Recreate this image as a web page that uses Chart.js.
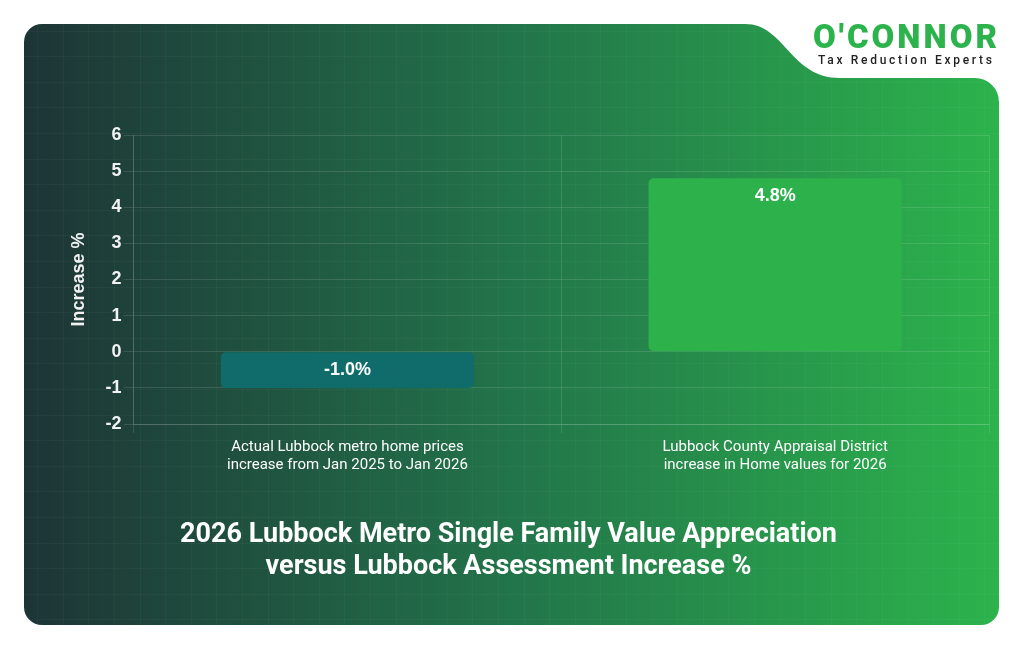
<!DOCTYPE html>
<html>
<head>
<meta charset="utf-8">
<script src="https://cdn.jsdelivr.net/npm/chart.js@4"></script>
<style>
html,body{margin:0;padding:0;background:#fff;}
canvas{display:block;}
</style>
</head>
<body>
<canvas id="c" width="1024" height="651"></canvas>
<script>
const categories = [
  ["Actual Lubbock metro home prices", "increase from Jan 2025 to Jan 2026"],
  ["Lubbock County Appraisal District", "increase in Home values for 2026"]
];
const values = [-1.0, 4.8];
const valueLabels = ["-1.0%", "4.8%"];
const yMin = -2, yMax = 6, yStep = 1;
const axisTitle = "Increase %";
const chartTitle = ["2026 Lubbock Metro Single Family Value Appreciation", "versus Lubbock Assessment Increase %"];
const brandName = "O'CONNOR";
const brandTagline = "Tax Reduction Experts";

const bgPlugin = {
  id: 'bg',
  beforeDraw(chart) {
    const ctx = chart.ctx;
    ctx.save();
    ctx.fillStyle = '#ffffff';
    ctx.fillRect(0, 0, chart.width, chart.height);
    const L = 24, T = 24, R = 999, B = 625, r = 18, r2 = 24, notchY = 78;
    ctx.beginPath();
    ctx.moveTo(L + r, T);
    ctx.lineTo(745, T);
    ctx.bezierCurveTo(785, T, 790, notchY, 840, notchY);
    ctx.lineTo(R - r2, notchY);
    ctx.arcTo(R, notchY, R, notchY + r2, r2);
    ctx.lineTo(R, B - r);
    ctx.arcTo(R, B, R - r, B, r);
    ctx.lineTo(L + r, B);
    ctx.arcTo(L, B, L, B - r, r);
    ctx.lineTo(L, T + r);
    ctx.arcTo(L, T, L + r, T, r);
    ctx.closePath();
    const g = ctx.createLinearGradient(L, 0, R, 0);
    g.addColorStop(0, '#1d3436');
    g.addColorStop(0.5, '#22744a');
    g.addColorStop(1, '#2cb34c');
    ctx.fillStyle = g;
    ctx.fill();
    ctx.clip();
    ctx.strokeStyle = 'rgba(255,255,255,0.03)';
    ctx.lineWidth = 1;
    for (let x = 11.5; x < 1024; x += 25.6) {
      ctx.beginPath(); ctx.moveTo(Math.round(x) + 0.5, 0); ctx.lineTo(Math.round(x) + 0.5, 651); ctx.stroke();
    }
    for (let y = 5; y < 651; y += 25.6) {
      ctx.beginPath(); ctx.moveTo(0, Math.round(y) + 0.5); ctx.lineTo(1024, Math.round(y) + 0.5); ctx.stroke();
    }
    ctx.restore();

    ctx.save();
    ctx.fillStyle = '#2cb34c';
    ctx.font = '900 33px Roboto';
    ctx.textBaseline = 'alphabetic';
    ctx.textAlign = 'left';
    if ('letterSpacing' in ctx) ctx.letterSpacing = '3px';
    ctx.fillText(brandName, 813, 48);
    ctx.fillStyle = '#222222';
    ctx.font = '500 12px Roboto';
    if ('letterSpacing' in ctx) ctx.letterSpacing = '2.7px';
    ctx.fillText(brandTagline, 818, 64);
    ctx.restore();
  }
};

const labelPlugin = {
  id: 'valLabels',
  afterDatasetsDraw(chart) {
    const ctx = chart.ctx;
    const meta = chart.getDatasetMeta(0);
    ctx.save();
    ctx.fillStyle = '#ffffff';
    ctx.font = 'bold 18px "Liberation Sans", Arial, sans-serif';
    ctx.textAlign = 'center';
    ctx.textBaseline = 'middle';
    meta.data.forEach((el, i) => {
      const v = values[i];
      const y = v >= 0 ? el.y + 18 : el.y - 18;
      ctx.fillText(valueLabels[i], el.x, y);
    });
    ctx.restore();
  }
};

const gridColor = 'rgba(255,255,255,0.12)';

new Chart(document.getElementById('c'), {
  type: 'bar',
  data: {
    labels: categories,
    datasets: [{
      data: values,
      backgroundColor: ['#106c6a', '#2db14b'],
      borderRadius: 5,
      borderSkipped: false,
      barPercentage: 0.74,
      categoryPercentage: 0.8
    }]
  },
  options: {
    responsive: false,
    animation: false,
    devicePixelRatio: 1,
    layout: { padding: { left: 28, right: 35, top: 135, bottom: 68 } },
    plugins: {
      legend: { display: false },
      tooltip: { enabled: false },
      title: {
        display: true,
        position: 'bottom',
        text: chartTitle,
        color: '#ffffff',
        font: { family: 'Roboto', size: 27, weight: 'bold', lineHeight: 1.185 },
        padding: { top: 40, bottom: 0 }
      }
    },
    scales: {
      x: {
        grid: { color: gridColor, tickLength: 9, offset: true },
        border: { color: gridColor },
        ticks: {
          color: '#ffffff',
          padding: 5,
          maxRotation: 0,
          font: { family: 'Roboto', size: 15, lineHeight: 1.2 }
        }
      },
      y: {
        min: yMin,
        max: yMax,
        grid: { color: gridColor, tickLength: 10 },
        border: { color: gridColor },
        ticks: {
          stepSize: yStep,
          color: '#f2f2f2',
          padding: 2,
          font: { family: '"Liberation Sans", Arial, sans-serif', size: 18, weight: 'bold' }
        },
        title: {
          display: true,
          text: axisTitle,
          color: '#f2f2f2',
          font: { family: '"Liberation Sans", Arial, sans-serif', size: 18, weight: 'bold', lineHeight: 1.2 },
          padding: { top: 40, bottom: 14 }
        }
      }
    }
  },
  plugins: [bgPlugin, labelPlugin]
});
</script>
</body>
</html>
